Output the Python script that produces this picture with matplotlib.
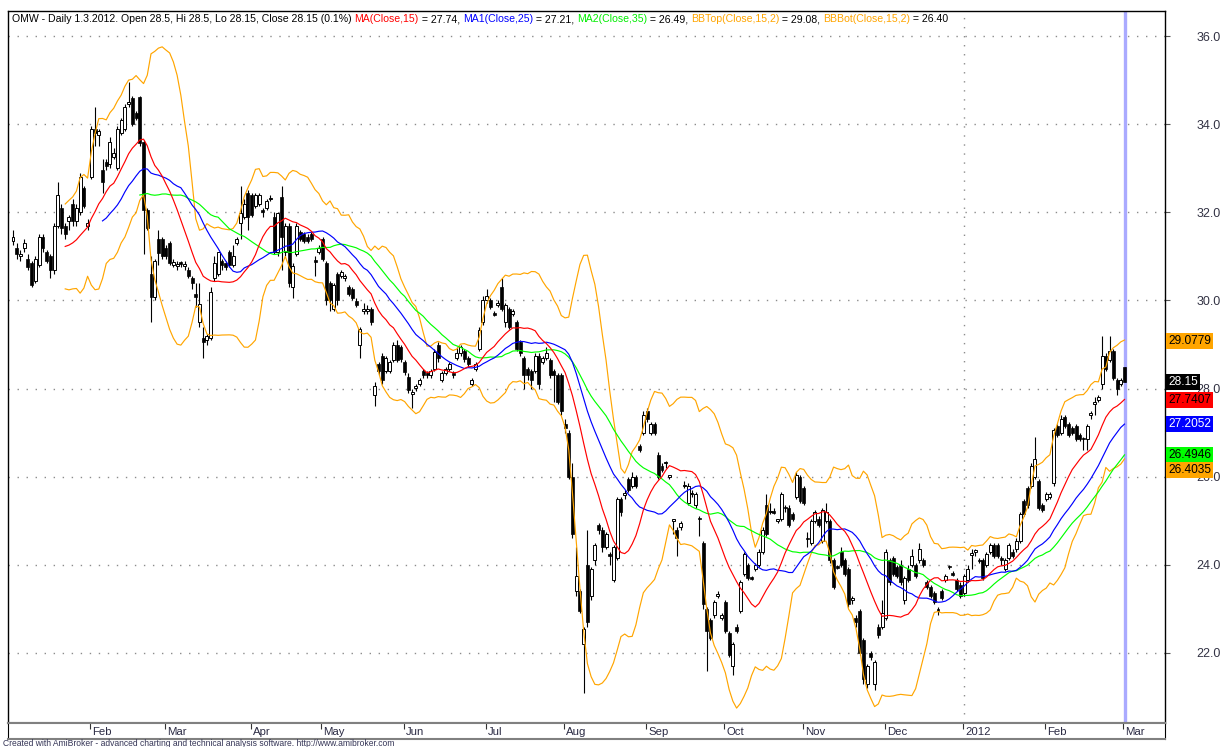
import numpy as np
import pandas as pd
import matplotlib
matplotlib.use('Agg')
import matplotlib.pyplot as plt

plt.rcParams['font.family'] = ['Liberation Sans', 'DejaVu Sans']

# OMW daily bars, 3.1.2011 .. 1.3.2012
opens = [
    31.35, 31.2, 31.0, 31.2, 30.95, 30.85, 30.45, 30.8, 31.45, 31.1,
    31.0, 30.7, 31.7, 32.1, 31.7, 31.8, 32.2, 31.8, 32.0, 32.55,
    31.7, 32.8, 33.9, 33.75, 32.95, 33.15, 33.1, 33.25, 33.0, 33.8,
    33.9, 34.45, 34.6, 34.25, 34.62, 33.6, 32.05, 30.6, 30.07, 31.4,
    31.4, 31.2, 31.3, 30.8, 30.78, 30.87, 30.78, 30.7, 30.5, 30.15,
    29.5, 29.15, 29.1, 29.15, 30.5, 30.6, 30.9, 30.85, 31.1, 30.8,
    31.3, 31.75, 31.9, 32.45, 32.4, 32.15, 32.2, 32.05, 32.1, 32.3,
    31.9, 31.1, 32.35, 31.1, 31.7, 30.3, 31.05, 31.55, 31.5, 31.45,
    31.5, 30.92, 31.1, 31.4, 30.85, 30.4, 29.8, 30.6, 30.55, 30.5,
    30.3, 30.25, 29.98, 29.0, 29.75, 29.75, 29.8, 27.85, 28.55, 28.75,
    28.4, 28.4, 28.65, 29.0, 28.94, 28.6, 28.26, 27.88, 28.02, 28.1,
    28.4, 28.35, 28.3, 28.45, 29.0, 28.2, 28.35, 28.45, 28.35, 28.7,
    28.8, 28.85, 28.7, 28.1, 28.45, 28.9, 29.5, 30.0, 30.0, 29.72,
    29.9, 30.3, 29.5, 29.8, 29.7, 29.5, 29.05, 28.7, 28.45, 28.4,
    28.4, 28.75, 28.6, 28.7, 28.65, 28.4, 28.3, 28.3, 27.2, 27.0,
    26.0, 23.4, 23.4, 22.2, 24.0, 23.3, 24.1, 24.9, 24.8, 24.4,
    24.25, 23.65, 24.15, 25.5, 25.58, 25.95, 25.8, 26.0, 26.7, 27.0,
    27.5, 27.0, 27.2, 26.5, 26.25, 26.3, 26.0, 25.0, 24.8, 24.85,
    25.78, 25.4, 25.6, 25.35, 25.06, 24.5, 23.0, 22.75, 22.85, 23.3,
    22.8, 23.15, 22.45, 21.7, 22.6, 22.95, 23.8, 24.0, 23.72, 23.9,
    24.0, 24.3, 25.35, 25.2, 25.22, 25.0, 25.05, 25.32, 25.3, 25.15,
    25.55, 26.0, 25.75, 24.62, 24.5, 25.0, 25.05, 24.55, 25.0, 25.0,
    24.1, 23.97, 24.3, 24.1, 23.9, 23.2, 22.8, 22.95, 22.3, 21.3,
    22.0, 21.3, 22.6, 22.6, 22.8, 24.1, 24.15, 23.95, 24.0, 23.2,
    23.9, 24.0, 24.0, 24.1, 24.1, 23.6, 23.5, 23.35, 22.98, 23.4,
    23.65, 23.96, 23.82, 23.65, 23.55, 23.35, 23.65, 24.23, 24.3, 24.12,
    24.1, 24.0, 24.3, 24.45, 24.45, 24.15, 23.9, 24.15, 24.3, 24.35,
    24.55, 25.45, 25.75, 25.8, 26.0, 25.9, 25.35, 25.5, 25.55, 25.85,
    27.15, 27.0, 27.35, 27.2, 27.1, 27.15, 26.95, 26.87, 26.85, 27.4,
    27.65, 27.75, 28.1, 28.75, 28.65, 28.85, 28.2, 28.1, 28.5,
]
closes = [
    31.45, 31.05, 31.05, 31.3, 30.75, 30.35, 30.95, 31.45, 31.2, 30.9,
    30.7, 31.7, 32.4, 31.65, 31.5, 31.9, 31.8, 32.1, 32.8, 32.15,
    31.75, 33.9, 33.8, 33.85, 32.7, 33.05, 33.6, 33.35, 33.9, 34.1,
    34.4, 34.5, 34.0, 34.15, 33.57, 32.05, 31.65, 30.07, 30.9, 31.07,
    31.0, 31.0, 30.85, 30.88, 30.82, 30.82, 30.83, 30.55, 30.4, 30.07,
    29.93, 29.05, 29.2, 30.2, 30.85, 31.1, 30.8, 30.75, 30.8, 31.0,
    31.4, 31.98, 32.2, 31.9, 31.95, 32.4, 32.4, 32.0, 32.25, 32.3,
    31.1, 31.98, 31.45, 31.7, 30.4, 30.78, 31.7, 31.4, 31.35, 31.35,
    31.4, 30.88, 31.2, 30.95, 30.0, 30.0, 30.35, 30.0, 30.65, 30.55,
    30.15, 30.05, 29.9, 29.35, 29.8, 29.8, 29.5, 28.05, 28.4, 28.2,
    28.7, 28.6, 29.0, 28.65, 28.68, 28.38, 27.96, 27.92, 28.06, 28.2,
    28.3, 28.3, 28.4, 28.83, 28.7, 28.35, 28.45, 28.55, 28.3, 28.8,
    28.95, 28.67, 28.55, 28.2, 28.55, 29.33, 30.0, 30.1, 29.85, 29.68,
    29.95, 29.8, 29.9, 29.4, 29.75, 28.9, 28.8, 28.3, 28.3, 28.2,
    28.75, 28.1, 28.7, 28.8, 28.3, 28.3, 27.7, 27.5, 27.1, 26.0,
    24.7, 23.75, 22.95, 22.55, 22.7, 23.9, 24.45, 24.8, 24.4, 24.7,
    24.2, 24.4, 25.5, 25.2, 25.62, 25.7, 26.0, 25.8, 26.6, 27.4,
    27.3, 27.2, 27.0, 26.0, 26.15, 26.3, 26.0, 25.0, 24.6, 24.95,
    25.82, 25.8, 25.62, 25.6, 25.04, 23.1, 22.5, 22.35, 23.15, 23.3,
    22.85, 22.5, 21.95, 22.2, 22.5, 23.6, 24.25, 23.7, 23.68, 24.0,
    24.3, 24.8, 24.7, 25.2, 25.18, 25.0, 25.6, 25.28, 24.9, 25.05,
    26.05, 25.45, 25.4, 24.58, 25.0, 25.2, 24.9, 25.25, 25.2, 24.1,
    23.5, 23.93, 24.0, 23.8, 23.1, 23.25, 22.7, 22.0, 21.4, 21.7,
    21.9, 21.8, 22.4, 22.9, 24.3, 23.6, 23.8, 23.75, 23.6, 23.7,
    23.65, 24.2, 23.75, 24.35, 24.0, 23.5, 23.3, 23.15, 22.96, 23.25,
    23.75, 23.94, 23.78, 23.45, 23.3, 23.75, 23.9, 24.27, 24.3, 24.08,
    23.7, 24.25, 24.45, 24.2, 24.2, 24.1, 24.1, 24.45, 24.2, 24.55,
    25.15, 25.15, 25.35, 26.25, 26.4, 25.3, 25.25, 25.6, 25.6, 27.05,
    26.95, 27.3, 27.15, 26.95, 27.0, 26.85, 26.85, 26.85, 27.15, 27.45,
    27.7, 27.8, 28.75, 28.45, 28.85, 28.25, 28.0, 28.2, 28.15,
]
highs = [
    31.6, 31.3, 31.15, 31.4, 31.05, 30.9, 31.0, 31.5, 31.5, 31.15,
    31.05, 31.75, 32.7, 32.2, 31.75, 31.95, 32.3, 32.2, 32.9, 32.6,
    31.85, 33.95, 34.4, 33.9, 33.2, 33.2, 33.7, 33.45, 33.95, 34.15,
    34.45, 34.95, 34.65, 34.3, 34.65, 33.65, 32.1, 31.0, 30.95, 31.6,
    31.45, 31.25, 31.35, 30.95, 30.9, 30.9, 30.9, 30.75, 30.55, 30.4,
    30.4, 29.4, 29.25, 30.3, 31.0, 31.1, 30.95, 30.9, 31.15, 31.25,
    31.45, 32.6, 32.3, 32.5, 32.45, 32.45, 32.45, 32.1, 32.3, 32.4,
    32.0, 32.0, 32.6, 31.75, 31.75, 30.85, 31.75, 31.6, 31.55, 31.5,
    31.55, 31.0, 31.25, 31.45, 30.9, 30.45, 30.4, 30.65, 30.7, 30.6,
    30.35, 30.3, 30.05, 29.4, 29.95, 29.9, 29.85, 28.15, 28.6, 28.8,
    28.75, 28.65, 29.05, 29.1, 29.0, 28.65, 28.35, 28.0, 28.1, 28.25,
    28.45, 28.4, 28.45, 28.9, 29.05, 28.4, 28.5, 28.6, 28.4, 28.95,
    29.0, 28.9, 28.75, 28.25, 28.6, 29.4, 30.1, 30.25, 30.05, 29.75,
    30.0, 30.5, 29.95, 29.85, 29.8, 29.55, 29.1, 28.75, 28.5, 28.45,
    28.8, 28.8, 28.75, 28.95, 28.7, 28.45, 28.35, 28.35, 27.3, 27.05,
    26.3, 24.4, 23.45, 22.6, 24.8, 23.95, 24.5, 24.95, 24.85, 24.75,
    24.3, 24.45, 25.55, 25.55, 25.7, 26.0, 26.1, 26.05, 26.75, 27.5,
    27.55, 27.25, 27.25, 26.55, 26.3, 26.35, 26.05, 25.05, 24.85, 25.0,
    25.9, 25.85, 25.7, 25.65, 25.1, 24.55, 23.05, 22.8, 23.2, 23.4,
    22.9, 23.2, 22.5, 22.25, 22.65, 23.65, 24.3, 24.05, 23.75, 24.05,
    24.35, 24.85, 25.6, 25.4, 25.3, 25.05, 25.65, 25.35, 25.35, 25.2,
    26.1, 26.05, 25.8, 24.75, 25.05, 25.25, 25.1, 25.3, 25.4, 25.05,
    24.15, 24.0, 24.4, 24.15, 23.95, 23.3, 22.85, 23.0, 22.35, 21.75,
    22.05, 21.85, 22.65, 23.2, 24.35, 24.15, 24.2, 24.0, 24.1, 23.75,
    24.0, 24.35, 24.05, 24.5, 24.15, 23.65, 23.55, 23.4, 23.05, 23.45,
    23.8, 24.0, 23.85, 23.7, 23.6, 23.8, 24.0, 24.35, 24.35, 24.15,
    24.15, 24.3, 24.5, 24.5, 24.5, 24.2, 24.15, 24.5, 24.35, 24.6,
    25.2, 25.5, 25.8, 26.3, 26.9, 25.95, 25.4, 25.65, 25.65, 27.1,
    27.2, 27.4, 27.4, 27.25, 27.15, 27.2, 27.0, 26.9, 27.2, 27.5,
    27.8, 27.85, 29.2, 28.8, 29.2, 28.9, 28.25, 28.25, 28.5,
]
lows = [
    31.25, 30.95, 30.9, 31.1, 30.7, 30.3, 30.4, 30.75, 31.1, 30.85,
    30.5, 30.6, 31.65, 31.5, 31.4, 31.6, 31.7, 31.7, 31.95, 32.1,
    31.6, 32.75, 33.5, 33.5, 32.45, 32.95, 33.0, 33.2, 32.95, 33.75,
    33.85, 34.4, 33.95, 34.1, 33.5, 31.05, 31.6, 29.5, 30.0, 30.8,
    30.95, 30.95, 30.8, 30.75, 30.7, 30.75, 30.7, 30.5, 30.25, 29.85,
    29.4, 28.7, 29.0, 29.1, 30.45, 30.55, 30.7, 30.7, 30.75, 30.75,
    31.25, 31.4, 31.85, 31.6, 31.9, 32.1, 32.15, 31.9, 32.05, 32.25,
    31.05, 31.0, 30.7, 31.0, 30.3, 30.05, 31.0, 31.35, 31.3, 31.3,
    31.35, 30.55, 31.05, 30.9, 29.9, 29.75, 29.75, 29.9, 30.5, 30.45,
    30.1, 30.0, 29.85, 28.7, 29.7, 29.7, 29.45, 27.6, 28.3, 28.1,
    28.35, 28.35, 28.6, 28.6, 28.6, 28.3, 27.9, 27.55, 27.95, 28.05,
    28.25, 28.25, 28.25, 28.4, 28.6, 28.15, 28.3, 28.4, 28.25, 28.65,
    28.75, 28.6, 28.5, 28.05, 28.4, 28.85, 29.45, 29.95, 29.8, 29.65,
    29.85, 29.75, 29.4, 29.35, 29.65, 28.85, 28.75, 28.0, 28.2, 28.0,
    28.35, 28.0, 28.55, 28.65, 28.25, 27.7, 27.65, 27.4, 27.0, 25.95,
    24.6, 23.3, 22.9, 21.1, 22.6, 23.2, 24.0, 24.7, 24.3, 24.35,
    24.0, 23.6, 24.1, 25.1, 25.5, 25.65, 25.75, 25.75, 26.55, 26.95,
    27.25, 26.95, 26.95, 25.95, 26.1, 26.2, 25.95, 24.7, 24.2, 24.8,
    25.75, 25.35, 25.55, 25.3, 24.65, 23.0, 21.6, 22.3, 22.8, 23.25,
    22.75, 22.45, 21.9, 21.5, 22.45, 22.9, 23.75, 23.65, 23.65, 23.85,
    23.95, 24.25, 24.65, 25.15, 25.15, 24.95, 25.0, 25.2, 24.85, 25.0,
    25.5, 25.4, 25.35, 24.4, 24.45, 24.95, 24.85, 24.5, 24.95, 24.05,
    23.45, 23.9, 23.95, 23.75, 23.05, 23.1, 22.6, 21.95, 21.3, 21.2,
    21.85, 21.15, 22.35, 22.55, 22.75, 23.55, 23.75, 23.7, 23.55, 23.1,
    23.6, 23.95, 23.7, 24.05, 23.95, 23.45, 23.25, 23.1, 22.85, 23.2,
    23.6, 23.9, 23.75, 23.4, 23.25, 23.3, 23.6, 23.9, 24.2, 24.05,
    23.65, 23.95, 24.25, 24.15, 24.15, 24.0, 23.85, 24.1, 24.15, 24.3,
    24.5, 25.1, 25.3, 25.75, 25.95, 25.25, 25.2, 25.45, 25.5, 25.8,
    26.9, 26.95, 27.1, 26.9, 26.95, 26.8, 26.8, 26.6, 26.6, 27.3,
    27.4, 27.7, 28.0, 28.4, 28.6, 28.2, 27.85, 28.05, 28.15,
]

# first bar of each month
month_starts = [21, 41, 64, 83, 105, 127, 148, 170, 191, 212, 234, 255, 277, 298]
month_labels = ['Feb', 'Mar', 'Apr', 'May', 'Jun', 'Jul', 'Aug', 'Sep', 'Oct',
                'Nov', 'Dec', '2012', 'Feb', 'Mar']
year_start = 255
price_ticks = [22, 24, 26, 28, 30, 32, 34, 36]

# last values shown in the right-hand boxes
last_values = [29.0779, 28.15, 27.7407, 27.2052, 26.4946, 26.4035]
last_labels = ['29.0779', '28.15', '27.7407', '27.2052', '26.4946', '26.4035']
box_colors = ['#ffa500', '#000000', '#ff0000', '#0000ff', '#00ff00', '#ffa500']
box_text = ['black', 'white', 'black', 'white', 'black', 'black']

RED, BLUE, GREEN, ORANGE = '#ff0000', '#0000ff', '#00ee00', '#ffa500'
title_parts = [
    ('OMW - Daily 1.3.2012. Open 28.5, Hi 28.5, Lo 28.15, Close 28.15 (0.1%) ', 'black'),
    ('MA(Close,15)', RED), (' = 27.74, ', 'black'),
    ('MA1(Close,25)', BLUE), (' = 27.21, ', 'black'),
    ('MA2(Close,35)', GREEN), (' = 26.49, ', 'black'),
    ('BBTop(Close,15,2)', ORANGE), (' = 29.08, ', 'black'),
    ('BBBot(Close,15,2)', ORANGE), (' = 26.40', 'black'),
]

W, H = 1226, 747
fig = plt.figure(figsize=(W / 100, H / 100), dpi=100)


def box(x0, y0, x1, y1):
    return [x0 / W, 1 - y1 / H, (x1 - x0) / W, (y1 - y0) / H]


ax = fig.add_axes(box(8, 11, 1165, 723))
axd = fig.add_axes(box(8, 723, 1165, 739))

o = np.array(opens)
c = np.array(closes)
h = np.array(highs)
l = np.array(lows)
x = np.arange(len(c))

step = (1124.5 - 13) / (len(c) - 1)
xmin = -(13 - 8) / step
xmax = xmin + 1157 / step
ax.set_xlim(xmin, xmax)
axd.set_xlim(xmin, xmax)
ax.set_ylim(20.41, 36.57)

# grid
for p in price_ticks:
    ax.axhline(p, color='#8c8c8c', lw=1, ls=(0, (1, 5.5)), zorder=1)
ax.axvline(year_start, color='#8c8c8c', lw=1, ls=(0, (1, 5.5)), zorder=1)
ax.axvline(x[-1], color='#aaaaff', lw=2.4, zorder=2)

# candles
up = c >= o
bottom = np.minimum(o, c)
height = np.maximum(np.abs(c - o), 0.03)
ax.vlines(x, l, h, color='black', lw=0.8, zorder=3)
ax.bar(x[up], height[up], bottom=bottom[up], width=0.8, facecolor='white',
       edgecolor='black', lw=0.7, zorder=4)
ax.bar(x[~up], height[~up], bottom=bottom[~up], width=0.8, facecolor='black',
       edgecolor='black', lw=0.5, zorder=4)

# indicators
s = pd.Series(c)
ma15 = s.rolling(15).mean()
ma25 = s.rolling(25).mean()
ma35 = s.rolling(35).mean()
sd = s.rolling(15).std(ddof=0)
ax.plot(x, ma15 + 2 * sd, color=ORANGE, lw=0.85, zorder=5)
ax.plot(x, ma15 - 2 * sd, color=ORANGE, lw=0.85, zorder=5)
ax.plot(x, ma35, color='#00ff00', lw=0.85, zorder=5)
ax.plot(x, ma25, color=BLUE, lw=0.85, zorder=5)
ax.plot(x, ma15, color=RED, lw=0.85, zorder=5)

# frame and price axis
for side in ['top', 'left', 'right']:
    ax.spines[side].set_color('black')
    ax.spines[side].set_linewidth(1)
ax.spines['bottom'].set_color('#808080')
ax.spines['bottom'].set_linewidth(1.5)
ax.set_xticks([])
ax.yaxis.tick_right()
ax.set_yticks(price_ticks)
ax.set_yticklabels([f'{p:.1f}' for p in price_ticks])
ax.tick_params(axis='y', right=True, left=False, direction='out', length=3.5,
               width=0.8, color='#555555', pad=19, labelsize=9,
               labelcolor='#333344')

# date strip
axd.set_ylim(0, 1)
axd.set_yticks([])
axd.spines['top'].set_color('#808080')
axd.spines['top'].set_linewidth(1.5)
axd.spines['bottom'].set_color('#808080')
axd.spines['bottom'].set_linewidth(1.5)
axd.spines['left'].set_color('black')
axd.spines['right'].set_color('black')
axd.set_xticks(np.array(month_starts) - 0.3)
axd.tick_params(axis='x', top=True, bottom=False, direction='in', length=4.5,
                width=0.8, color='#333333', labelbottom=False)
for i, lab in zip(month_starts, month_labels):
    axd.annotate(lab, xy=(i - 0.3, 0.42), xycoords=('data', 'axes fraction'),
                 xytext=(1.5, 0), textcoords='offset points', ha='left',
                 va='center', fontsize=8.2, color='#2b2b44')

# value boxes on the right, pushed apart when they would overlap
box_h = 15
prev = None
for val, lab, bg, fg in sorted(zip(last_values, last_labels, box_colors, box_text),
                               key=lambda t: -t[0]):
    y_px = ax.transData.transform((0, val))[1]
    want = y_px
    if prev is not None and prev - y_px < box_h:
        y_px = prev - box_h
    prev = y_px
    ax.annotate(lab, xy=(1.0, val), xycoords=('axes fraction', 'data'),
                xytext=(2.2, (y_px - want) * 0.72), textcoords='offset points',
                ha='left', va='center', fontsize=8.6, color=fg, zorder=10,
                annotation_clip=False,
                bbox=dict(boxstyle='square,pad=0.16', fc=bg, ec='none'))

# title line
prev_t = None
for txt, col in title_parts:
    if prev_t is None:
        prev_t = ax.annotate(txt, xy=(12, H - 19), xycoords='figure pixels',
                             ha='left', va='center', fontsize=7.6, color=col,
                             annotation_clip=False)
    else:
        prev_t = ax.annotate(txt, xy=(1, 0.5), xycoords=prev_t, ha='left',
                             va='center', fontsize=7.6, color=col,
                             annotation_clip=False)

fig.text(3 / W, 1 - 743.5 / H,
         'Created with AmiBroker - advanced charting and technical analysis software. '
         'http://www.amibroker.com',
         ha='left', va='center', fontsize=6.15, color='#333355')

fig.savefig('out.png', dpi=100)
